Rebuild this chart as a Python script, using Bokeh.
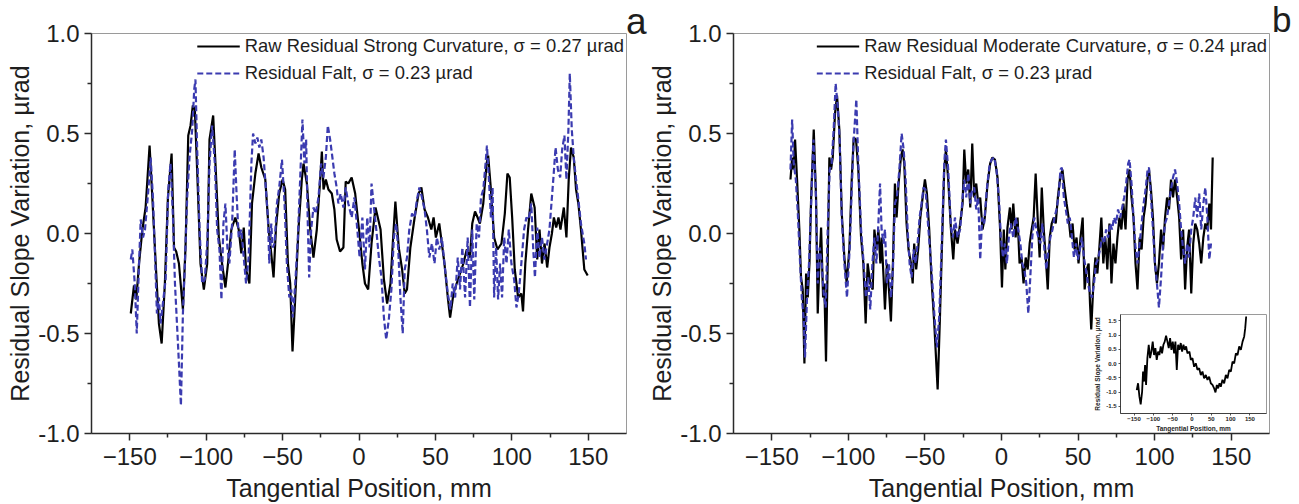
from bokeh.plotting import figure
from bokeh.layouts import row
from bokeh.models import FixedTicker, Legend, LegendItem, NumeralTickFormatter, Div
from bokeh.embed import file_html
from bokeh.resources import INLINE

FONT = "Liberation Sans"
BLUE = "#3b3bb0"
TEXT = "#1e1e1e"
AXC = "#2a2a2a"

# ---------------- data ----------------
x_ticks = [-150, -100, -50, 0, 50, 100, 150]
x_minor = [-125, -75, -25, 25, 75, 125]
y_ticks = [-1.0, -0.5, 0.0, 0.5, 1.0]
y_minor = [-0.75, -0.25, 0.25, 0.75]
inset_x_ticks = [-150, -100, -50, 0, 50, 100, 150]
inset_y_ticks = [-1.5, -1.0, -0.5, 0.0, 0.5, 1.0, 1.5]

labels_a = ["Raw Residual Strong Curvature, \u03c3 = 0.27 \u00b5rad", "Residual Falt, \u03c3 = 0.23 \u00b5rad"]
labels_b = ["Raw Residual Moderate Curvature, \u03c3 = 0.24 \u00b5rad", "Residual Falt, \u03c3 = 0.23 \u00b5rad"]
panel_letters = ["a", "b"]
x_title = "Tangential Position, mm"
y_title = "Residual Slope Variation, \u00b5rad"

raw_a = [(-149.3,-0.40),(-147.2,-0.26),(-145.7,-0.33),(-143.9,-0.15),(-141.7,0.02),(-139.6,0.13),(-137.0,0.44),(-135.2,0.18),(-133.0,-0.15),(-130.9,-0.45),(-129.1,-0.55),(-127.0,-0.25),(-125.0,0.18),(-122.6,0.40),(-121.0,-0.07),(-119.6,-0.09),(-117.8,-0.15),(-115.2,-0.38),(-113.5,-0.07),(-111.7,0.49),(-110.2,0.54),(-108.7,0.64),(-107.4,0.62),(-105.9,0.32),(-103.7,-0.15),(-101.5,-0.28),(-99.3,-0.15),(-97.8,0.47),(-95.4,0.59),(-93.9,0.35),(-91.7,-0.02),(-89.6,-0.15),(-87.4,-0.27),(-85.7,-0.15),(-83.5,0.02),(-80.9,0.08),(-78.7,0.02),(-77.0,-0.10),(-75.4,0.03),(-73.9,-0.18),(-71.7,-0.25),(-70.0,0.15),(-67.8,0.30),(-65.7,0.40),(-63.9,0.33),(-61.3,0.27),(-59.1,0.02),(-57.4,-0.10),(-55.9,-0.22),(-54.3,0.03),(-52.2,0.20),(-50.0,0.27),(-48.3,0.22),(-46.5,-0.15),(-45.0,-0.25),(-43.5,-0.59),(-41.7,-0.32),(-39.6,0.02),(-37.4,0.27),(-36.3,0.35),(-34.1,0.25),(-31.9,0.02),(-29.8,-0.12),(-27.6,0.02),(-25.4,0.27),(-24.3,0.41),(-23.2,0.22),(-21.7,0.27),(-20.0,0.22),(-17.8,0.20),(-16.1,0.12),(-14.6,-0.03),(-12.4,-0.09),(-10.2,-0.07),(-8.7,0.26),(-7.0,0.25),(-4.8,0.28),(-2.5,0.20),(0.0,0.02),(2.2,-0.15),(3.9,-0.25),(6.0,-0.28),(8.2,-0.05),(10.8,0.13),(14.1,0.02),(16.3,-0.23),(18.4,-0.35),(20.6,-0.25),(22.1,-0.05),(23.8,0.16),(26.0,-0.07),(28.2,-0.18),(29.9,-0.30),(31.4,-0.28),(33.6,-0.07),(36.4,0.08),(39.0,0.20),(40.8,0.23),(42.9,0.12),(45.1,0.08),(47.3,0.02),(48.8,0.08),(50.3,-0.02),(52.5,0.05),(54.2,-0.05),(55.9,-0.15),(58.1,-0.32),(59.6,-0.42),(61.8,-0.30),(63.9,-0.25),(66.1,-0.20),(68.3,-0.15),(70.5,-0.08),(72.6,-0.12),(74.1,0.05),(75.9,0.11),(77.6,0.08),(79.1,0.05),(81.3,0.15),(83.5,0.35),(84.5,0.39),(86.3,0.22),(88.4,-0.02),(90.6,-0.08),(93.2,-0.05),(95.4,0.10),(97.1,0.30),(98.6,0.28),(100.2,0.08),(101.9,-0.18),(104.1,-0.32),(106.2,-0.30),(107.3,-0.39),(108.8,-0.15),(110.6,0.02),(112.7,0.20),(114.9,0.13),(116.6,-0.13),(118.1,0.02),(119.7,-0.15),(121.4,-0.05),(123.1,-0.17),(124.6,-0.07),(126.2,0.00),(127.5,0.08),(129.0,0.03),(130.5,0.08),(131.8,0.02),(134.0,0.13),(135.7,-0.02),(137.2,0.27),(138.7,0.43),(140.5,0.38),(142.0,0.22),(143.5,0.15),(145.2,0.02),(147.4,-0.18),(149.6,-0.21)]

flat_a = [(-149.3,-0.13),(-148.3,-0.08),(-146.7,-0.25),(-145.4,-0.50),(-143.9,-0.15),(-142.8,0.07),(-141.3,-0.02),(-140.0,0.02),(-137.8,0.22),(-136.3,0.38),(-134.8,0.18),(-133.5,-0.10),(-132.2,-0.40),(-130.9,-0.32),(-129.8,-0.45),(-128.3,-0.35),(-126.5,-0.23),(-124.8,0.22),(-123.3,0.35),(-121.7,0.08),(-120.4,-0.25),(-118.9,-0.48),(-117.8,-0.65),(-116.5,-0.86),(-115.2,-0.40),(-113.9,-0.15),(-112.4,0.18),(-110.9,0.38),(-109.1,0.52),(-107.8,0.72),(-107.0,0.77),(-105.9,0.43),(-104.3,0.02),(-102.6,-0.25),(-100.9,-0.23),(-99.1,-0.02),(-97.8,0.35),(-96.1,0.54),(-94.3,0.35),(-92.8,0.02),(-91.3,-0.08),(-90.0,-0.33),(-88.7,0.05),(-87.4,0.15),(-86.1,-0.07),(-84.8,-0.15),(-83.0,0.05),(-81.3,0.42),(-80.0,0.18),(-78.7,-0.02),(-77.0,0.02),(-75.4,-0.12),(-73.9,-0.25),(-72.2,-0.12),(-70.4,0.35),(-69.3,0.50),(-67.8,0.45),(-66.5,0.48),(-65.2,0.43),(-63.9,0.47),(-62.4,0.38),(-60.9,0.22),(-59.6,0.08),(-58.7,-0.15),(-57.4,0.05),(-56.5,-0.07),(-55.2,-0.05),(-53.7,0.15),(-52.2,0.23),(-50.4,0.37),(-48.7,0.15),(-47.2,-0.15),(-45.6,-0.32),(-44.3,-0.28),(-43.3,-0.42),(-41.7,-0.25),(-40.0,-0.02),(-38.5,0.27),(-37.0,0.57),(-35.7,0.35),(-34.6,0.47),(-33.5,0.05),(-32.6,-0.22),(-31.3,0.02),(-29.8,0.13),(-28.3,0.10),(-26.5,0.18),(-24.8,0.35),(-23.3,0.28),(-21.7,0.38),(-20.4,0.54),(-18.9,0.47),(-17.4,0.38),(-16.1,0.30),(-14.6,0.23),(-13.5,0.15),(-12.0,0.20),(-10.2,0.13),(-8.7,0.23),(-7.0,0.15),(-4.8,0.08),(-3.0,0.18),(-1.1,0.02),(0.4,-0.12),(2.2,0.08),(3.9,-0.18),(5.4,0.08),(6.9,-0.07),(8.2,0.25),(9.8,0.13),(11.3,0.02),(13.0,-0.12),(14.7,-0.22),(16.3,-0.42),(17.8,-0.53),(19.5,-0.43),(21.2,-0.28),(22.8,-0.02),(24.3,0.05),(25.6,-0.07),(27.1,-0.32),(28.6,-0.50),(29.9,-0.18),(31.4,-0.12),(32.9,0.02),(34.7,0.10),(36.4,0.08),(37.9,0.17),(39.5,0.23),(41.2,0.18),(42.9,0.12),(44.4,0.02),(46.0,-0.12),(47.7,-0.05),(49.4,-0.15),(50.9,-0.02),(52.5,-0.08),(54.2,-0.02),(55.9,-0.15),(58.1,-0.30),(59.8,-0.38),(61.3,-0.25),(62.9,-0.32),(64.6,-0.12),(66.1,-0.28),(67.6,-0.07),(69.4,-0.32),(71.1,-0.02),(72.6,-0.37),(74.1,0.02),(75.4,-0.33),(77.0,0.05),(78.5,-0.02),(79.8,0.18),(81.3,0.22),(82.8,0.35),(83.7,0.44),(85.0,0.27),(86.3,0.08),(87.4,0.23),(88.4,-0.32),(89.7,-0.07),(91.0,-0.33),(92.3,-0.15),(93.6,-0.32),(95.0,-0.02),(96.5,-0.15),(98.0,0.02),(99.7,-0.15),(101.5,-0.23),(103.0,-0.37),(104.5,-0.30),(106.2,-0.15),(108.0,0.02),(109.5,0.08),(111.0,0.07),(112.7,0.15),(114.0,-0.08),(115.1,-0.22),(116.6,0.03),(118.1,-0.12),(119.7,-0.02),(121.4,-0.13),(123.1,-0.05),(124.6,0.02),(125.7,0.13),(127.2,0.28),(128.6,0.43),(130.1,0.32),(131.6,0.28),(132.9,0.42),(134.4,0.49),(135.7,0.27),(137.0,0.52),(137.9,0.80),(139.2,0.52),(140.5,0.38),(142.0,0.27),(143.5,0.17),(145.2,0.05),(147.4,-0.05),(148.5,-0.13)]

raw_b = [(-137.8,0.27),(-136.7,0.38),(-135.7,0.32),(-134.8,0.47),(-133.5,0.27),(-132.0,0.02),(-130.9,-0.22),(-129.8,-0.28),(-128.7,-0.65),(-127.6,-0.20),(-126.5,-0.32),(-125.4,-0.15),(-124.3,0.18),(-122.6,0.52),(-121.1,0.18),(-120.0,-0.40),(-118.9,-0.15),(-117.8,0.03),(-116.5,-0.32),(-115.7,-0.25),(-114.6,-0.64),(-113.5,-0.15),(-112.4,0.38),(-111.3,0.32),(-110.2,0.38),(-108.7,0.60),(-107.4,0.69),(-105.9,0.52),(-104.3,0.10),(-102.6,-0.12),(-101.1,-0.25),(-99.3,-0.07),(-97.8,0.27),(-96.5,0.48),(-95.0,0.47),(-93.5,0.32),(-91.7,-0.02),(-90.2,-0.15),(-88.7,-0.45),(-87.4,-0.15),(-85.7,-0.25),(-84.1,-0.28),(-83.0,0.02),(-81.7,-0.08),(-80.4,0.02),(-79.1,-0.15),(-78.3,-0.02),(-77.0,-0.22),(-76.1,-0.38),(-74.8,-0.15),(-73.5,-0.28),(-72.2,-0.44),(-70.9,-0.15),(-69.6,0.25),(-68.5,0.08),(-67.2,0.25),(-65.7,0.38),(-64.6,0.42),(-63.5,0.35),(-62.0,0.05),(-60.7,-0.08),(-59.1,-0.15),(-58.0,-0.25),(-57.0,-0.05),(-55.7,-0.18),(-54.3,-0.07),(-53.0,0.08),(-51.5,0.18),(-50.0,0.27),(-48.7,0.20),(-47.2,0.02),(-45.7,-0.23),(-43.9,-0.45),(-41.7,-0.78),(-40.2,-0.42),(-38.9,-0.07),(-37.4,0.32),(-36.3,0.42),(-34.8,0.27),(-33.0,0.02),(-31.5,-0.13),(-30.4,0.02),(-28.7,-0.05),(-27.0,0.05),(-25.4,0.15),(-24.3,0.42),(-23.0,0.25),(-21.7,0.32),(-20.4,0.13),(-19.1,0.45),(-17.8,0.18),(-16.5,0.25),(-15.2,0.15),(-13.9,0.18),(-12.4,0.02),(-10.9,0.08),(-9.1,0.25),(-7.4,0.35),(-5.9,0.38),(-4.3,0.37),(-2.6,0.28),(-0.9,0.02),(0.3,-0.27),(1.5,0.02),(2.5,-0.18),(3.9,0.03),(5.5,0.13),(6.6,0.02),(7.7,0.15),(9.2,-0.02),(10.5,0.08),(11.8,-0.15),(13.1,-0.12),(14.4,-0.25),(15.8,-0.12),(17.1,-0.18),(18.4,-0.05),(19.7,0.02),(21.0,0.08),(22.3,0.30),(23.6,0.08),(24.9,-0.12),(26.3,0.23),(27.6,0.02),(28.9,-0.12),(30.2,-0.28),(31.5,-0.02),(32.8,0.05),(34.1,0.08),(35.4,0.05),(36.8,0.18),(38.3,0.28),(39.8,0.32),(41.1,0.23),(42.5,0.15),(43.8,0.08),(45.1,-0.02),(46.4,0.05),(47.7,-0.08),(49.0,-0.02),(50.3,-0.15),(51.6,-0.02),(53.0,0.08),(54.3,-0.28),(55.6,-0.18),(56.9,-0.15),(57.8,-0.35),(58.6,-0.48),(60.0,-0.25),(61.3,-0.12),(62.6,-0.20),(63.9,-0.07),(65.2,0.08),(66.5,-0.15),(67.8,-0.02),(69.1,-0.18),(70.5,0.05),(71.8,-0.25),(73.1,-0.05),(74.4,-0.15),(75.7,-0.02),(77.0,0.08),(78.3,0.02),(79.6,0.15),(81.0,0.02),(82.3,0.27),(83.6,0.32),(84.9,0.18),(86.2,0.08),(87.5,-0.15),(88.8,-0.28),(90.2,-0.02),(91.5,-0.08),(92.8,0.08),(94.1,0.15),(95.4,0.28),(96.3,0.32),(97.6,0.22),(98.9,0.08),(100.2,-0.15),(101.5,-0.25),(102.8,-0.15),(104.2,0.02),(105.5,-0.08),(106.8,0.08),(108.1,0.18),(109.4,0.12),(110.7,0.27),(112.0,0.18),(113.3,0.27),(114.7,0.18),(116.0,0.08),(117.3,-0.13),(118.6,0.02),(119.9,-0.28),(121.2,-0.07),(122.5,0.02),(123.9,-0.30),(125.2,-0.05),(126.5,0.05),(127.8,0.02),(129.1,-0.05),(130.4,-0.15),(131.8,-0.02),(133.1,0.05),(134.4,0.02),(135.7,0.15),(136.8,0.02),(137.9,0.38)]

flat_b = [(-137.8,0.32),(-136.7,0.57),(-135.7,0.35),(-134.3,0.27),(-133.0,0.10),(-131.5,-0.15),(-130.4,-0.32),(-129.1,-0.43),(-128.3,-0.62),(-127.0,-0.32),(-125.7,-0.15),(-124.3,0.15),(-122.8,0.47),(-121.3,0.22),(-120.0,-0.25),(-118.7,-0.07),(-117.4,-0.15),(-116.1,-0.30),(-114.8,-0.37),(-113.5,0.02),(-112.2,0.32),(-110.9,0.35),(-109.6,0.52),(-108.3,0.75),(-107.0,0.64),(-105.7,0.47),(-104.3,0.08),(-102.6,-0.15),(-100.9,-0.32),(-99.1,-0.07),(-97.8,0.22),(-96.5,0.47),(-94.8,0.67),(-93.5,0.35),(-91.7,0.02),(-90.0,-0.15),(-88.5,-0.32),(-87.0,-0.22),(-85.7,-0.38),(-84.3,-0.15),(-83.0,-0.02),(-81.7,-0.15),(-80.4,0.05),(-79.3,0.25),(-78.3,0.02),(-77.0,-0.05),(-76.1,0.02),(-74.8,-0.25),(-73.5,-0.15),(-72.2,-0.32),(-70.9,-0.18),(-69.6,0.15),(-68.3,0.18),(-66.7,0.32),(-65.2,0.50),(-63.9,0.42),(-62.6,0.27),(-61.3,0.02),(-60.0,-0.15),(-58.7,-0.22),(-57.4,-0.08),(-56.1,-0.15),(-54.8,-0.05),(-53.5,0.08),(-52.2,0.15),(-50.9,0.23),(-49.6,0.22),(-48.3,0.08),(-47.0,-0.05),(-45.7,-0.18),(-43.9,-0.40),(-42.2,-0.57),(-40.7,-0.42),(-39.1,-0.07),(-37.4,0.35),(-36.3,0.47),(-34.8,0.32),(-33.0,0.03),(-31.7,-0.02),(-30.4,0.08),(-28.7,-0.02),(-27.0,0.02),(-25.4,0.18),(-24.3,0.27),(-23.0,0.18),(-21.7,0.30),(-20.4,0.15),(-19.1,0.22),(-17.8,0.23),(-16.5,0.12),(-15.2,0.18),(-13.9,-0.13),(-12.6,0.08),(-11.3,0.05),(-9.6,0.22),(-8.0,0.33),(-6.5,0.37),(-4.8,0.38),(-3.3,0.32),(-1.7,0.18),(-0.4,-0.02),(1.0,-0.12),(2.2,-0.05),(3.5,-0.15),(4.8,-0.02),(6.1,0.05),(7.7,-0.02),(9.2,0.08),(10.9,0.02),(12.3,-0.05),(13.6,-0.15),(14.9,-0.18),(16.2,-0.25),(17.5,-0.40),(18.8,-0.22),(20.1,-0.02),(21.4,0.08),(22.8,0.02),(24.1,-0.02),(25.4,-0.05),(26.7,0.05),(28.0,-0.08),(29.3,-0.18),(30.6,-0.08),(31.9,-0.02),(33.3,0.02),(34.6,0.08),(35.9,0.12),(37.2,0.18),(38.5,0.32),(39.4,0.33),(40.7,0.18),(42.0,0.12),(43.3,0.05),(44.6,0.08),(46.0,-0.02),(47.3,-0.12),(48.6,-0.05),(49.9,-0.13),(51.2,-0.08),(52.5,-0.02),(53.8,-0.12),(55.1,-0.18),(56.5,-0.25),(57.8,-0.30),(59.1,-0.32),(60.4,-0.25),(61.7,-0.15),(63.0,-0.13),(64.3,-0.08),(65.6,-0.02),(67.0,-0.05),(68.3,0.02),(69.6,-0.02),(70.9,0.05),(72.2,0.02),(73.5,0.08),(74.8,0.05),(76.1,0.12),(77.5,0.08),(78.8,0.13),(80.1,0.18),(81.4,0.25),(82.7,0.35),(83.6,0.37),(84.9,0.25),(86.2,0.08),(87.5,-0.07),(88.8,-0.15),(90.2,-0.05),(91.5,0.05),(92.8,0.15),(94.1,0.22),(95.4,0.32),(96.3,0.33),(97.6,0.18),(98.9,0.02),(100.2,-0.15),(101.5,-0.25),(102.8,-0.37),(104.2,-0.22),(105.5,-0.05),(106.8,0.05),(108.1,0.08),(109.4,0.15),(110.7,0.22),(112.0,0.28),(113.3,0.32),(114.7,0.25),(116.0,0.15),(117.3,0.02),(118.6,-0.08),(119.9,-0.15),(121.2,-0.05),(122.5,-0.12),(123.9,0.02),(125.2,0.08),(126.5,0.18),(127.8,0.08),(129.1,0.20),(130.4,0.02),(131.8,0.15),(133.1,0.23),(134.4,0.08),(135.7,-0.13),(136.8,-0.05)]

inset_raw = [(-143.0,-0.93),(-139.5,-0.69),(-136.0,-1.16),(-132.7,-1.43),(-129.0,-0.98),(-126.6,-0.28),(-124.0,-0.63),(-121.4,-0.05),(-118.8,-0.75),(-115.4,0.19),(-111.9,0.66),(-108.5,0.19),(-105.0,0.42),(-101.6,0.77),(-98.1,0.30),(-94.7,0.54),(-91.2,0.13),(-87.7,0.42),(-84.3,0.30),(-80.8,0.60),(-77.4,0.36),(-73.9,0.66),(-70.5,0.77),(-67.0,0.98),(-63.5,0.77),(-60.1,0.54),(-56.6,0.89),(-53.2,0.48),(-49.7,0.77),(-46.2,0.36),(-42.8,0.77),(-39.3,-0.22),(-35.9,0.66),(-32.4,0.48),(-29.0,0.72),(-25.5,0.42),(-22.0,0.66),(-18.6,0.48),(-15.1,0.60),(-11.7,0.36),(-6.5,0.42),(-3.0,0.13),(1.3,0.19),(5.6,-0.11),(9.9,0.01),(14.3,-0.22),(18.6,-0.16),(22.9,-0.40),(27.2,-0.28),(31.5,-0.52),(35.9,-0.40),(40.2,-0.57),(44.5,-0.46),(48.8,-0.69),(53.2,-0.75),(57.5,-0.87),(60.9,-1.01),(64.4,-0.75),(67.8,-0.87),(71.3,-0.69),(74.7,-0.81),(79.0,-0.57),(83.4,-0.69),(87.7,-0.40),(92.0,-0.52),(96.4,-0.22),(100.7,-0.28),(105.0,0.07),(109.3,0.01),(113.7,0.36),(118.0,0.30),(122.3,0.60),(126.6,0.48),(131.0,0.77),(135.3,0.95),(137.9,1.24),(140.4,1.65)]

TOP_BORDER = 33
BOTTOM_BORDER = 71


def style_axes(p, tick_size, title_size, line_w, tick_out, minor_out, bold=False):
    for ax in (p.xaxis[0], p.yaxis[0]):
        ax.axis_line_color = AXC
        ax.axis_line_width = line_w
        ax.major_tick_line_color = AXC
        ax.minor_tick_line_color = AXC
        ax.major_tick_line_width = line_w
        ax.minor_tick_line_width = line_w
        ax.major_tick_in = 0
        ax.major_tick_out = tick_out
        ax.minor_tick_in = 0
        ax.minor_tick_out = minor_out
        ax.major_label_text_font = FONT
        ax.major_label_text_font_size = tick_size
        ax.major_label_text_color = TEXT
        ax.axis_label_text_font = FONT
        ax.axis_label_text_font_size = title_size
        ax.axis_label_text_color = TEXT
        ax.axis_label_text_font_style = "bold" if bold else "normal"
        if bold:
            ax.major_label_text_font_style = "bold"
    p.xgrid.visible = False
    p.ygrid.visible = False


def make_panel(raw, flat, labels, fw, right_border):
    p = figure(frame_width=fw, frame_height=400, x_range=(-175, 175), y_range=(-1, 1),
               output_backend="svg", toolbar_location=None, title=None,
               min_border_left=91, min_border_right=right_border,
               min_border_top=TOP_BORDER, min_border_bottom=BOTTOM_BORDER)
    p.outline_line_color = "#9a9a9a"
    p.outline_line_width = 1
    style_axes(p, "24px", "25px", 1.5, 7, 4)
    p.xaxis.ticker = FixedTicker(ticks=x_ticks, minor_ticks=x_minor)
    p.yaxis.ticker = FixedTicker(ticks=y_ticks, minor_ticks=y_minor)
    p.yaxis.formatter = NumeralTickFormatter(format="0.0")
    p.xaxis.axis_label = x_title
    p.yaxis.axis_label = y_title
    p.xaxis.major_label_standoff = 7
    p.xaxis.axis_label_standoff = 6
    p.yaxis.major_label_standoff = 5
    p.yaxis.axis_label_standoff = 1

    xr, yr = zip(*raw)
    xf, yf = zip(*flat)
    r1 = p.line(list(xr), list(yr), line_color="black", line_width=2.2)
    r2 = p.line(list(xf), list(yf), line_color=BLUE, line_width=2.2, line_dash="6 3")
    legend = Legend(items=[LegendItem(label=labels[0], renderers=[r1]),
                           LegendItem(label=labels[1], renderers=[r2])],
                    location="top_right", margin=0, padding=2, spacing=5,
                    glyph_width=43, glyph_height=20, label_height=20, label_standoff=5,
                    label_text_font=FONT, label_text_font_size="18.4px", label_text_color=TEXT,
                    border_line_alpha=0, background_fill_alpha=0)
    p.add_layout(legend)
    return p


p1 = make_panel(raw_a, flat_a, labels_a, 535, 16)
p2 = make_panel(raw_b, flat_b, labels_b, 536, 22)

# inset: its top/bottom borders are aligned by the row to the main panels' borders
inset = figure(frame_width=146, frame_height=99, x_range=(-185, 193), y_range=(-1.75, 1.72),
               output_backend="svg", toolbar_location=None, title=None,
               min_border_left=30, min_border_right=6,
               min_border_top=TOP_BORDER, min_border_bottom=BOTTOM_BORDER)
inset.outline_line_color = "#9a9a9a"
inset.border_fill_alpha = 0
inset.background_fill_color = "white"
style_axes(inset, "6px", "6.5px", 0.8, 2, 1, bold=True)
inset.xaxis.ticker = FixedTicker(ticks=inset_x_ticks, minor_ticks=[])
inset.yaxis.ticker = FixedTicker(ticks=inset_y_ticks, minor_ticks=[])
inset.yaxis.formatter = NumeralTickFormatter(format="0.0")
inset.xaxis.axis_label = x_title
inset.yaxis.axis_label = y_title
inset.xaxis.major_label_standoff = 1
inset.xaxis.axis_label_standoff = 1
inset.yaxis.major_label_standoff = 2
inset.yaxis.axis_label_standoff = 2
xi, yi = zip(*inset_raw)
inset.line(list(xi), list(yi), line_color="black", line_width=1.8)
inset.styles = {"position": "absolute", "left": "1090px", "top": "%dpx" % (314 - TOP_BORDER)}

letter_a = Div(text=panel_letters[0], width=34, height=40,
               styles={"position": "absolute", "left": "621px", "top": "3px",
                       "font-family": FONT, "font-size": "37px", "line-height": "28px",
                       "color": TEXT, "overflow": "visible"})
letter_b = Div(text=panel_letters[1], width=30, height=40,
               styles={"position": "absolute", "left": "1267px", "top": "1px",
                       "font-family": FONT, "font-size": "35px", "line-height": "28px",
                       "color": TEXT, "overflow": "visible"})

layout = row(p1, p2, inset, letter_a, letter_b)
open("out.html", "w").write(file_html(layout, INLINE))
